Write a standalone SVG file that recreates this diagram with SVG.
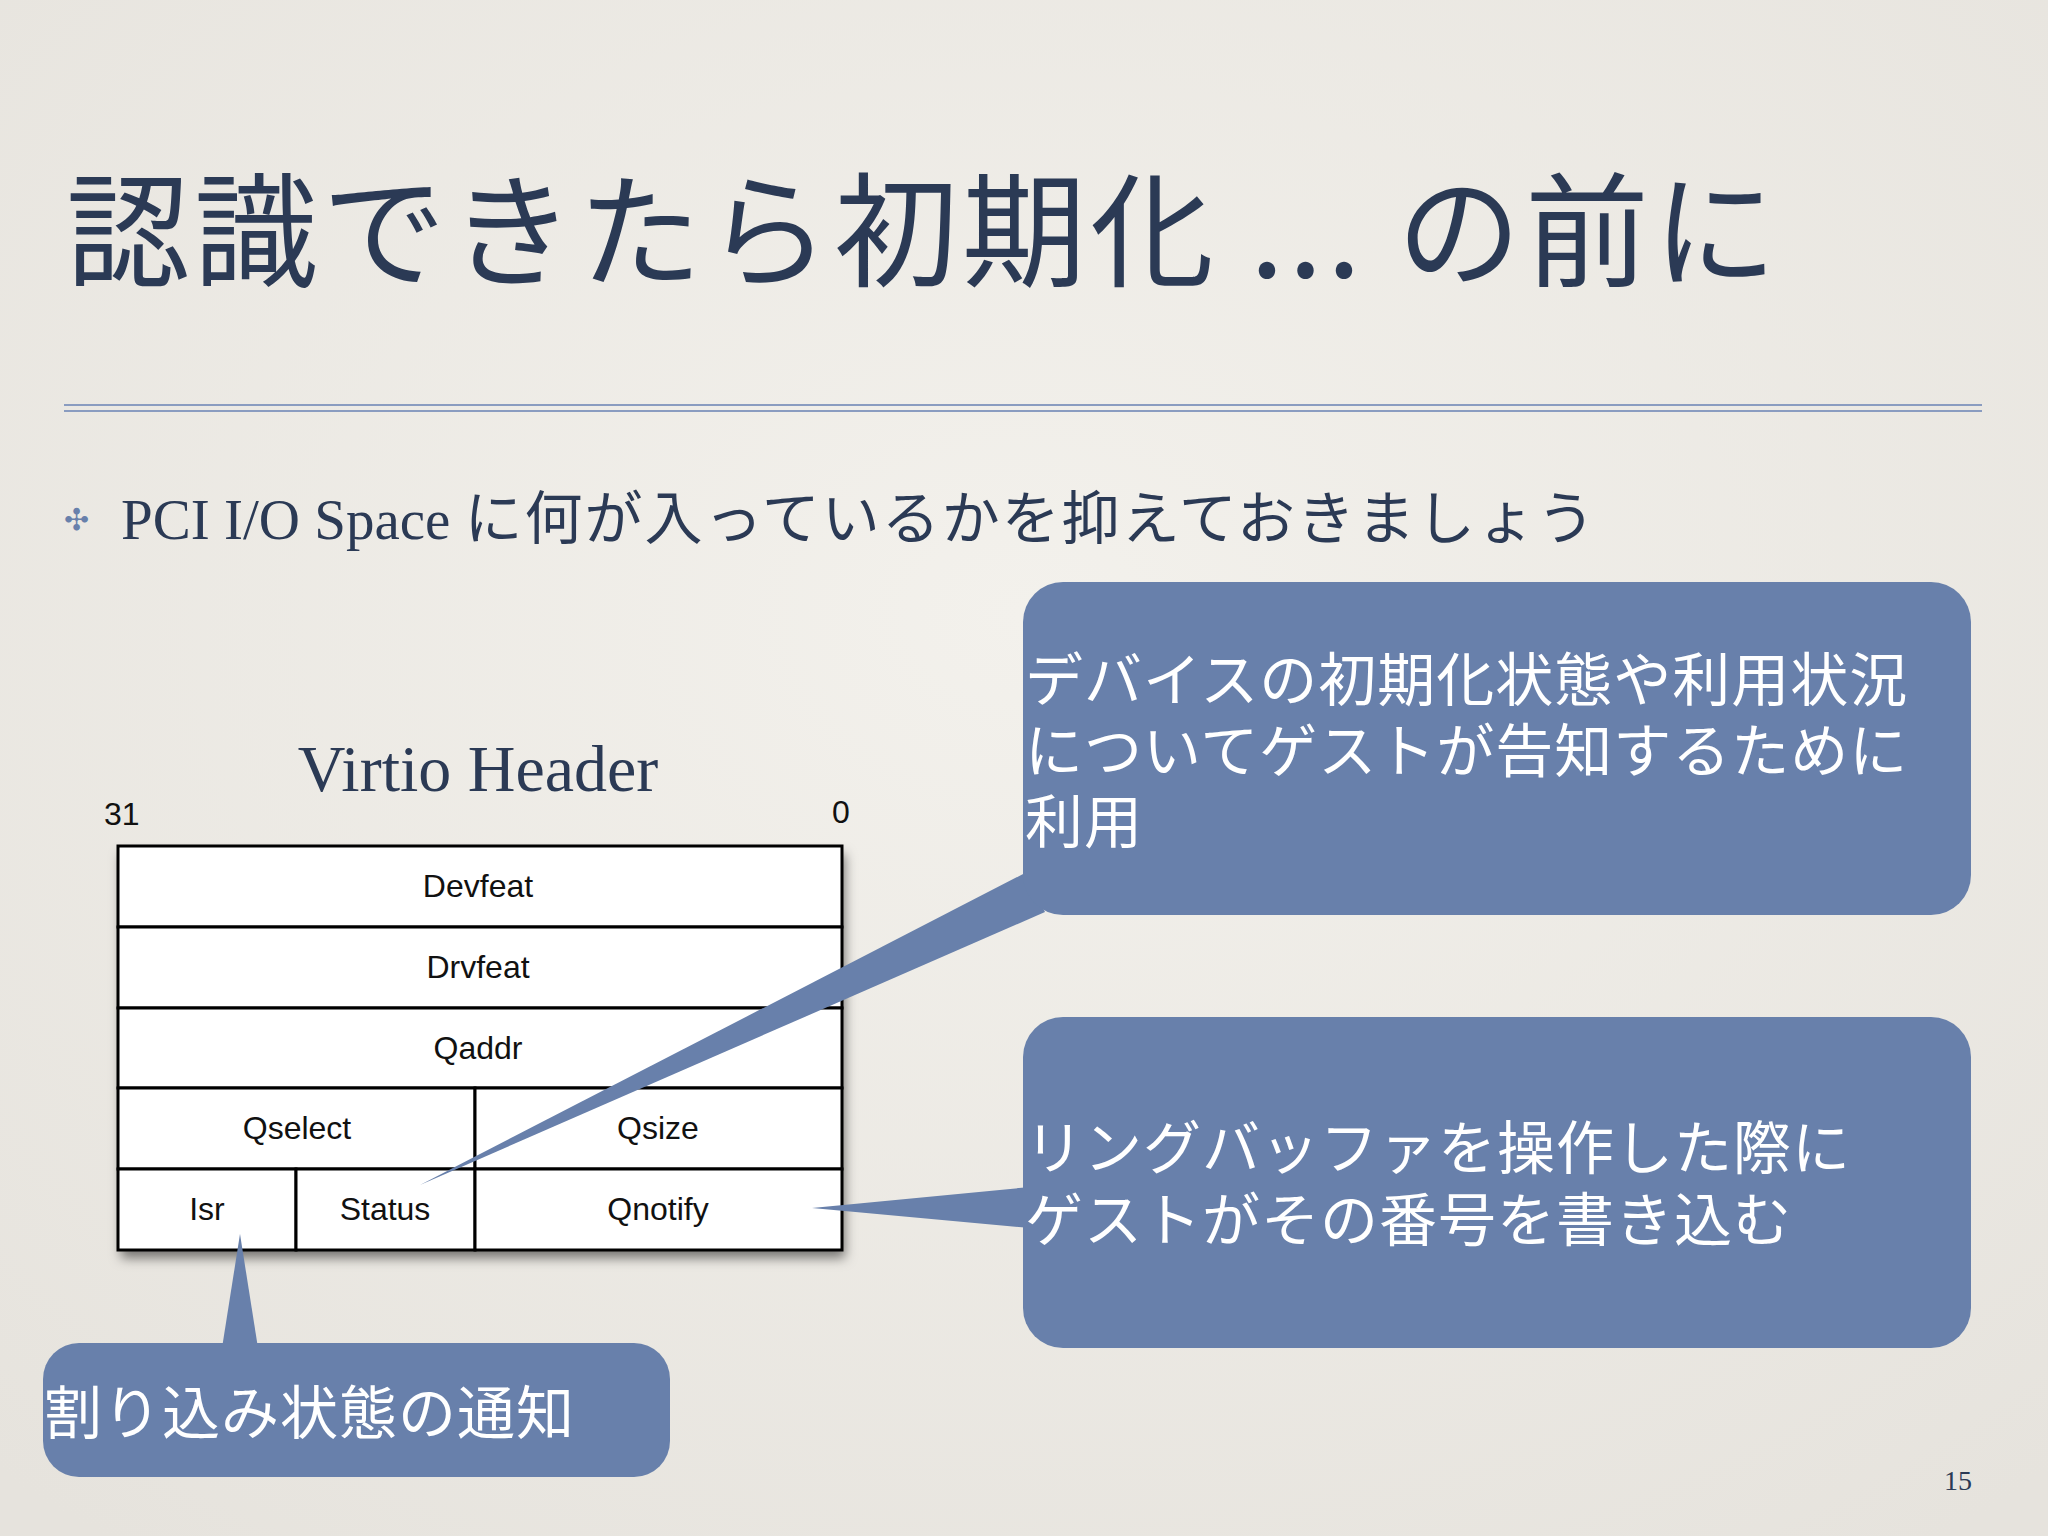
<svg xmlns="http://www.w3.org/2000/svg" width="2048" height="1536" viewBox="0 0 2048 1536">
<defs>
<style>
.ser{font-family:"Liberation Serif","Noto Sans CJK JP",serif;fill:#2b3a55}
.cjk{font-family:"Noto Sans CJK JP","Liberation Serif",sans-serif}
.sans{font-family:"Liberation Sans",Arial,sans-serif;fill:#111;font-size:32px}
.cell{fill:#fff;stroke:#000;stroke-width:3}
.call{fill:#6880ab}
.ct{font-family:"Noto Sans CJK JP",sans-serif;fill:#fff;font-size:58px;letter-spacing:1px}
</style>
<filter id="sh" x="-10%" y="-10%" width="130%" height="130%"><feDropShadow dx="3" dy="8" stdDeviation="6" flood-opacity="0.5"/></filter>
<radialGradient id="bg" cx="50%" cy="40%" r="75%"><stop offset="0" stop-color="#f3f1ec"/><stop offset="1" stop-color="#e6e3dd"/></radialGradient>
</defs>
<rect width="2048" height="1536" fill="url(#bg)"/>
<g id="title"><text x="66" y="277" class="ser cjk" font-size="124" letter-spacing="4" fill="#2b3a55">認識できたら初期化 ... の前に</text></g>
<g id="rule" stroke="#8a9cc0" stroke-width="2"><line x1="64" y1="405" x2="1982" y2="405"/><line x1="64" y1="411" x2="1982" y2="411"/></g>
<g id="bullet"><text x="64" y="530" font-family="DejaVu Sans,sans-serif" font-size="30" fill="#6880ab">✣</text>
<text x="121" y="539" class="ser" font-size="57">PCI I/O Space <tspan class="cjk" font-size="58" letter-spacing="2" fill="#2b3a55">に何が入っているかを抑えておきましょう</tspan></text></g>
<g id="header"><text x="478" y="791" class="ser" font-size="66" text-anchor="middle">Virtio Header</text>
<text x="104" y="825" class="sans" font-size="30">31</text><text x="832" y="823" class="sans" font-size="30">0</text></g>
<g id="table">
<rect x="118" y="846" width="724" height="404" fill="#fff" filter="url(#sh)"/>
<rect class="cell" x="118" y="846" width="724" height="81"/>
<rect class="cell" x="118" y="927" width="724" height="81"/>
<rect class="cell" x="118" y="1008" width="724" height="80"/>
<rect class="cell" x="118" y="1088" width="357" height="81"/>
<rect class="cell" x="475" y="1088" width="367" height="81"/>
<rect class="cell" x="118" y="1169" width="178" height="81"/>
<rect class="cell" x="296" y="1169" width="179" height="81"/>
<rect class="cell" x="475" y="1169" width="367" height="81"/>
<g class="sans" text-anchor="middle">
<text x="478" y="897">Devfeat</text><text x="478" y="978">Drvfeat</text><text x="478" y="1059">Qaddr</text>
<text x="297" y="1139">Qselect</text><text x="658" y="1139">Qsize</text>
<text x="207" y="1220">Isr</text><text x="385" y="1220">Status</text><text x="658" y="1220">Qnotify</text></g>
</g>
<g id="connectors" class="call">
<polygon points="1025,873 1045,912 420,1185"/>
<polygon points="1030,1187 1030,1228 812,1208"/>
<polygon points="222,1348 258,1348 240,1234"/>
</g>
<g id="callout1"><rect class="call" x="1023" y="582" width="948" height="333" rx="40"/>
<text class="ct" x="1025" y="701">デバイスの初期化状態や利用状況</text>
<text class="ct" x="1025" y="772">についてゲストが告知するために</text>
<text class="ct" x="1025" y="843">利用</text></g>
<g id="callout2"><rect class="call" x="1023" y="1017" width="948" height="331" rx="40"/>
<text class="ct" x="1025" y="1169">リングバッファを操作した際に</text>
<text class="ct" x="1025" y="1241">ゲストがその番号を書き込む</text></g>
<g id="callout3"><rect class="call" x="43" y="1343" width="627" height="134" rx="36"/>
<text class="ct" x="44" y="1434">割り込み状態の通知</text></g>
<text x="1972" y="1490" class="ser" font-size="28" text-anchor="end">15</text>
</svg>
